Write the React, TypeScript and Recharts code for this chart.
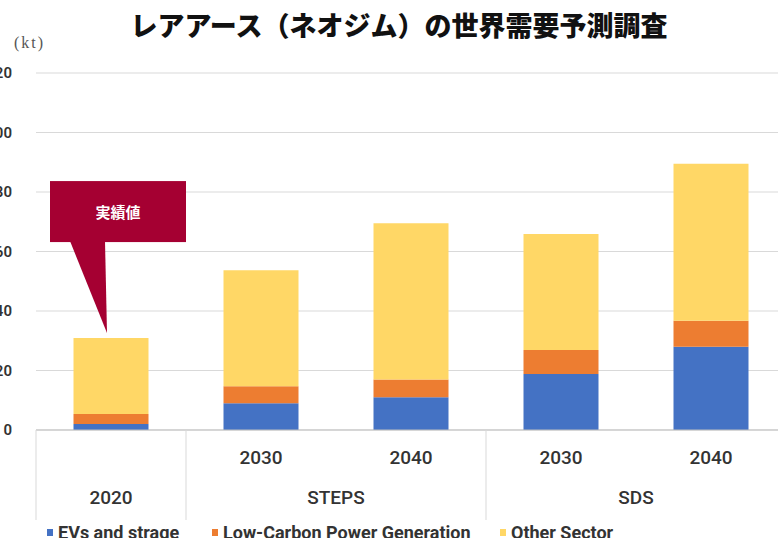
import { BarChart, Bar, XAxis, YAxis, CartesianGrid, Legend, ReferenceDot } from 'recharts'

// categories (unique keys) and the two label rows under the axis
const keys = ['2020', 'STEPS 2030', 'STEPS 2040', 'SDS 2030', 'SDS 2040']
const yearLabels = ['', '2030', '2040', '2030', '2040']
const groupLabels = ['2020', 'STEPS', 'SDS']
const groupStarts = [0, 1, 3]
const groupSizes = [1, 2, 2]

// demand, kt
const evs = [2, 9, 11, 18.8, 28]
const lowCarbon = [3.4, 5.7, 6, 8.1, 8.7]
const other = [25.5, 39, 52.5, 39, 52.8]

const yTicks = [0, 20, 40, 60, 80, 100, 120]

const seriesNames = ['EVs and strage', 'Low-Carbon Power Generation', 'Other Sector']
const seriesColors = ['#4472c4', '#ed7d31', '#ffd766']

const data = keys.map((k, i) => ({
  key: k,
  evs: evs[i],
  lowCarbon: lowCarbon[i],
  other: other[i]
}))

const CHART_W = 830
const CHART_H = 540
const MARGIN = { top: 73, right: 24, left: 0, bottom: 0 }
const Y_AXIS_W = 56
const BAND = (CHART_W - MARGIN.right - MARGIN.left - Y_AXIS_W) / keys.length
const FONT = 'Roboto, "Liberation Sans", sans-serif'

function CategoryTick(props: any) {
  const { x, y, payload } = props
  const i = payload.index
  const g = groupStarts.indexOf(i)
  return (
    <g>
      {yearLabels[i] && (
        <text x={x} y={y + 27} textAnchor="middle" dominantBaseline="central"
          fontSize={19} fontWeight={500} fill="#333" fontFamily={FONT}>
          {yearLabels[i]}
        </text>
      )}
      {g >= 0 && (
        <>
          <line x1={x - BAND / 2} x2={x - BAND / 2} y1={y} y2={y + 90} stroke="#d9d9d9" />
          <text x={x - BAND / 2 + (groupSizes[g] * BAND) / 2} y={y + 67} textAnchor="middle"
            dominantBaseline="central" fontSize={19} fontWeight={500} fill="#333" fontFamily={FONT}>
            {groupLabels[g]}
          </text>
        </>
      )}
    </g>
  )
}

function Callout(props: any) {
  const { cx, cy } = props
  if (cx == null || cy == null) return <g />
  return (
    <g>
      <rect x={cx - 61} y={cy - 157} width={136} height={61} fill="#a50032" />
      <path d={`M${cx - 41},${cy - 97} L${cx - 6},${cy - 97} L${cx - 4},${cy - 5} Z`} fill="#a50032" />
      <text x={cx + 7} y={cy - 127} textAnchor="middle" dominantBaseline="central" fill="#fff"
        fontSize={15} fontWeight={700} fontFamily='"Noto Sans CJK JP", sans-serif'>
        実績値
      </text>
    </g>
  )
}

const legendOffsets = [67, 232, 520]

function LegendContent() {
  return (
    <div style={{ position: 'relative', height: 20, width: CHART_W, fontFamily: FONT,
      transform: 'translateY(2px)' }}>
      {seriesNames.map((n, i) => (
        <div key={n} style={{ position: 'absolute', left: legendOffsets[i], top: 0, height: 20,
          display: 'flex', alignItems: 'center', whiteSpace: 'nowrap' }}>
          <span style={{ width: 6, height: 7, background: seriesColors[i], marginRight: 5 }} />
          <span style={{ fontSize: 18, fontWeight: 700, color: '#333' }}>{n}</span>
        </div>
      ))}
    </div>
  )
}

export default function App() {
  const total2020 = evs[0] + lowCarbon[0] + other[0]
  return (
    <div style={{ position: 'absolute', left: 0, top: 0, width: 778, height: 538,
      overflow: 'hidden', background: '#fff' }}>
      <div style={{ position: 'absolute', left: 10, top: 10, width: 778, height: 30,
        lineHeight: '30px', textAlign: 'center', fontSize: 27, fontWeight: 900,
        fontFamily: '"Noto Sans CJK JP", sans-serif', color: '#111' }}>
        レアアース（ネオジム）の世界需要予測調査
      </div>
      <div style={{ position: 'absolute', left: 14, top: 34, fontSize: 16, letterSpacing: 2,
        fontFamily: '"Liberation Serif", serif', color: '#555' }}>
        (kt)
      </div>
      <div style={{ position: 'absolute', left: -20, top: 0 }}>
        <BarChart width={CHART_W} height={CHART_H} data={data} margin={MARGIN} barCategoryGap="25%">
          <CartesianGrid vertical={false} stroke="#d9d9d9" />
          <XAxis dataKey="key" interval={0} height={90} tickLine={false} tickSize={0} tickMargin={0}
            stroke="#bfbfbf" tick={<CategoryTick />} />
          <YAxis domain={[0, 120]} ticks={yTicks} width={Y_AXIS_W} axisLine={false} tickLine={false}
            tickSize={0} tickMargin={24}
            tick={{ fontSize: 15, fontWeight: 600, fill: '#333', fontFamily: FONT }} />
          <Legend verticalAlign="bottom" align="left" content={<LegendContent />} />
          <Bar dataKey="evs" stackId="a" fill={seriesColors[0]} name={seriesNames[0]} isAnimationActive={false} />
          <Bar dataKey="lowCarbon" stackId="a" fill={seriesColors[1]} name={seriesNames[1]} isAnimationActive={false} />
          <Bar dataKey="other" stackId="a" fill={seriesColors[2]} name={seriesNames[2]} isAnimationActive={false} />
          <ReferenceDot x="2020" y={total2020} ifOverflow="visible" shape={<Callout />} />
        </BarChart>
      </div>
    </div>
  )
}
